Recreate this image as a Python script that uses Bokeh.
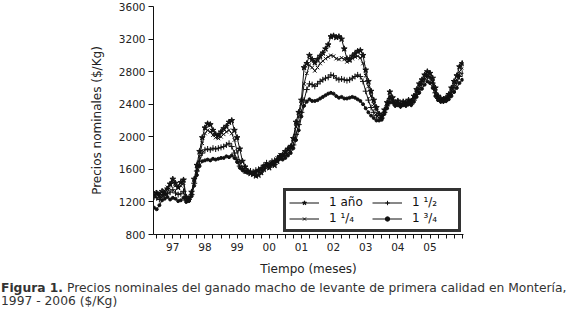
import numpy as np
from bokeh.plotting import figure
from bokeh.layouts import column
from bokeh.models import Range1d, FixedTicker, Legend, LegendItem, Div
from bokeh.embed import file_html
from bokeh.resources import INLINE

# Monthly prices ($/Kg), Jan 1997 .. Aug 2006
s_1 = [1290, 1310, 1280, 1330, 1300, 1360, 1420, 1480, 1430, 1380, 1440, 1470,
       1260, 1240, 1320, 1480, 1650, 1820, 1990, 2110, 2160, 2150, 2080, 2030,
       2015, 2060, 2100, 2130, 2180, 2200, 2080, 1990, 1850, 1700, 1630, 1580,
       1550, 1540, 1520, 1530, 1560, 1600, 1640, 1620, 1660, 1650, 1700, 1760,
       1780, 1820, 1850, 1880, 1980, 2180, 2300, 2450, 2850, 2900, 3000, 2950,
       2910, 2950, 2990, 3030, 3080, 3130, 3230, 3240, 3220, 3230, 3200, 3080,
       2960, 2950, 2990, 3020, 3050, 3060, 3000, 2820, 2680, 2560, 2450, 2360,
       2280, 2250, 2330, 2420, 2550, 2480, 2420, 2440, 2400, 2430, 2420, 2450,
       2440, 2500, 2580, 2650, 2700, 2760, 2800, 2780, 2720, 2600, 2500, 2470,
       2460, 2480, 2520, 2600, 2680, 2750, 2860, 2900]
s_1q = [1320, 1290, 1310, 1280, 1340, 1380, 1400, 1450, 1400, 1370, 1400, 1430,
        1230, 1220, 1300, 1450, 1600, 1760, 1920, 2040, 2080, 2060, 2020, 1990,
        1980, 2000, 2030, 2060, 2080, 2040, 1960, 1820, 1690, 1620, 1570, 1560,
        1560, 1550, 1560, 1580, 1600, 1640, 1670, 1660, 1690, 1700, 1740, 1780,
        1770, 1800, 1840, 1880, 1960, 2120, 2250, 2400, 2650, 2780, 2880, 2850,
        2810, 2850, 2900, 2930, 2960, 2980, 3000, 2990, 2960, 2950, 2970, 2950,
        2920, 2930, 2960, 2980, 2990, 2970, 2900, 2750, 2620, 2500, 2400, 2330,
        2270, 2250, 2320, 2400, 2500, 2460, 2400, 2420, 2390, 2410, 2400, 2430,
        2420, 2480, 2550, 2620, 2680, 2730, 2760, 2740, 2680, 2560, 2480, 2450,
        2450, 2470, 2500, 2570, 2640, 2700, 2800, 2840]
s_1h = [1260, 1250, 1230, 1260, 1290, 1300, 1320, 1350, 1310, 1290, 1300, 1330,
        1220, 1230, 1290, 1430, 1580, 1700, 1800, 1840, 1850, 1840, 1860, 1850,
        1860, 1870, 1880, 1900, 1920, 1880, 1800, 1720, 1640, 1600, 1580, 1570,
        1580, 1570, 1590, 1600, 1620, 1650, 1680, 1670, 1700, 1710, 1730, 1760,
        1750, 1770, 1800, 1840, 1900, 2030, 2150, 2300, 2450, 2580, 2650, 2640,
        2620, 2650, 2680, 2700, 2720, 2730, 2760, 2750, 2720, 2700, 2710, 2700,
        2690, 2700, 2720, 2740, 2760, 2740, 2680, 2560, 2450, 2360, 2300, 2260,
        2230, 2230, 2300, 2380, 2470, 2440, 2390, 2400, 2380, 2400, 2390, 2410,
        2400, 2450, 2520, 2580, 2640, 2700, 2740, 2720, 2660, 2540, 2470, 2440,
        2440, 2450, 2480, 2540, 2600, 2660, 2740, 2780]
s_3q = [1130, 1110, 1160, 1220, 1240, 1260, 1230, 1250, 1240, 1210, 1220, 1250,
        1200, 1210, 1270, 1400, 1530, 1640, 1700, 1710, 1720, 1710, 1730, 1720,
        1730, 1740, 1740, 1760, 1750, 1770, 1740, 1690, 1620, 1590, 1570, 1560,
        1560, 1550, 1570, 1590, 1610, 1640, 1660, 1650, 1680, 1690, 1700, 1730,
        1720, 1740, 1770, 1800, 1860, 1960, 2080, 2250, 2380, 2430, 2460, 2440,
        2440, 2450, 2470, 2490, 2510, 2530, 2540, 2530, 2500, 2480, 2490, 2470,
        2470, 2480, 2490, 2480, 2460, 2440, 2400, 2350, 2300, 2260, 2230, 2200,
        2200, 2210, 2280, 2350, 2420, 2420, 2380, 2390, 2370, 2390, 2380, 2400,
        2390, 2430, 2490, 2540, 2590, 2640, 2680, 2660, 2600, 2500, 2450, 2430,
        2430, 2440, 2460, 2500, 2550, 2600, 2660, 2700]

series_names = ["1 año", "1 ¹/₄", "1 ¹/₂", "1 ³/₄"]
year_labels = ["97", "98", "99", "00", "01", "02", "03", "04", "05"]
y_ticks = [800, 1200, 1600, 2000, 2400, 2800, 3200, 3600]

x = list(range(len(s_1)))

FONT = "DejaVu Sans"
INK = "#111111"

p = figure(width=567, height=282, output_backend="svg", toolbar_location=None,
           x_range=Range1d(-0.2, 115.5), y_range=Range1d(800, 3600),
           min_border_left=153, min_border_right=104, min_border_top=6,
           min_border_bottom=48, margin=(0, 0, 0, 0))
p.outline_line_color = None
p.xgrid.grid_line_color = None
p.ygrid.grid_line_color = None
p.background_fill_color = "white"
p.border_fill_color = "white"

markers = ["star", "x", "cross", "circle"]
sizes = [6, 5, 6, 3]
items = []
for name, ys, mk, sz in zip(series_names, [s_1, s_1q, s_1h, s_3q], markers, sizes):
    r1 = p.line(x, ys, line_color=INK, line_width=1)
    r2 = p.scatter(x, ys, marker=mk, size=sz, line_color=INK, fill_color=INK, line_width=1)
    items.append(LegendItem(label=name, renderers=[r1, r2]))

legend = Legend(items=items, location=(130, 2), ncols=2,
                border_line_color="#333333", border_line_width=3, border_line_alpha=1,
                padding=3, spacing=0, glyph_width=30, glyph_height=11,
                label_standoff=10, label_height=16, label_width=43, margin=0,
                label_text_font=FONT, label_text_font_size="12px",
                label_text_color=INK, background_fill_alpha=1)
p.add_layout(legend, "center")

# x axis
tick_pos = [1 + 3 * k for k in range(39)]
over = {t: "" for t in tick_pos}
for i, lab in enumerate(year_labels):
    over[7 + 12 * i] = lab
p.xaxis.ticker = FixedTicker(ticks=tick_pos)
p.xaxis.major_label_overrides = over
p.xaxis.minor_tick_line_color = None
p.xaxis.major_tick_out = 4
p.xaxis.major_tick_in = 0
p.xaxis.axis_label = "Tiempo (meses)"

# y axis
p.yaxis.ticker = FixedTicker(ticks=y_ticks)
p.yaxis.minor_tick_line_color = None
p.yaxis.major_tick_out = 5
p.yaxis.major_tick_in = 0
p.yaxis.axis_label = "Precios nominales ($/Kg)"

for ax in (p.xaxis, p.yaxis):
    ax.axis_line_color = INK
    ax.major_tick_line_color = INK
    ax.major_label_text_font = FONT
    ax.major_label_text_font_size = "10.5px"
    ax.major_label_text_color = "#222222"
    ax.axis_label_text_font = FONT
    ax.axis_label_text_font_size = "12px"
    ax.axis_label_text_font_style = "normal"
    ax.axis_label_text_color = "#222222"
p.xaxis.major_label_standoff = 4
p.xaxis.axis_label_standoff = 8
p.yaxis.major_label_standoff = 3
p.yaxis.axis_label_standoff = 12

caption = Div(
    text="<b>Figura 1.</b> Precios nominales del ganado macho de levante de primera "
         "calidad en Montería,<br>1997 - 2006 ($/Kg)",
    width=567, height=30, margin=(0, 0, 0, 0),
    styles={"font-family": "DejaVu Sans", "font-size": "12.3px", "line-height": "13px",
            "color": "#333333", "white-space": "nowrap", "padding-left": "1px"})

layout = column(p, caption, spacing=0, margin=(0, 0, 0, 0))
open("out.html", "w").write(file_html(layout, INLINE))
